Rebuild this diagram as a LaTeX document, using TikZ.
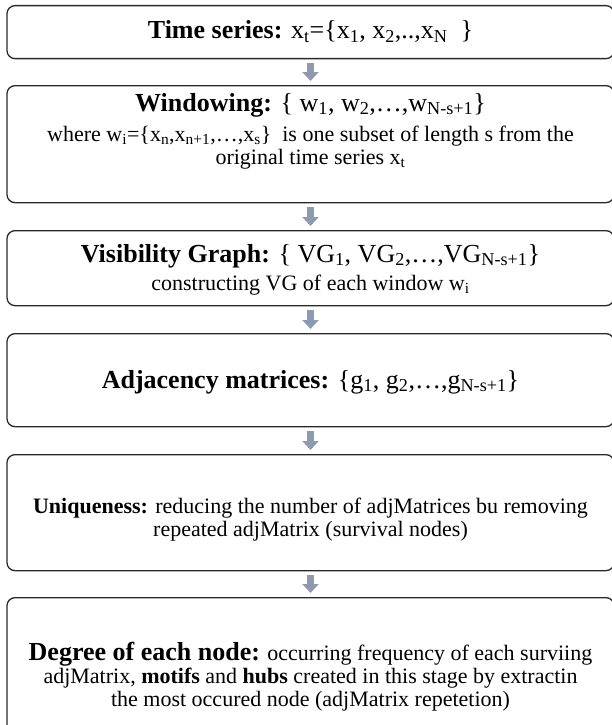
\documentclass[tikz,border=0pt]{standalone}
\usepackage{fontspec}
\setmainfont{Liberation Serif}
\usetikzlibrary{arrows.meta}
\definecolor{arrowgray}{RGB}{142,154,176}
\definecolor{boxline}{RGB}{40,40,40}
\newcommand{\hfnt}{\fontsize{26}{30}\selectfont}
\newcommand{\bfnt}{\fontsize{22}{25}\selectfont}
\newcommand{\sub}[1]{\textsubscript{#1}}
\begin{document}
\begin{tikzpicture}[x=1pt,y=-1pt,
  box/.style={draw=boxline, line width=1.3pt, rounded corners=8pt, minimum width=607pt, inner sep=0pt, anchor=north},
  txt/.style={anchor=base, inner sep=0pt},
  flow/.style={draw=arrowgray, line width=7pt, -{Triangle[width=16pt,length=9pt]}, shorten <=4pt, shorten >=4pt}]
\useasboundingbox (0,0) rectangle (611,725);
\node[box, minimum height=53pt] (b1) at (310.5,5) {};
\node[box, minimum height=117pt] (b2) at (310.5,85) {};
\node[box, minimum height=75pt] (b3) at (310.5,230) {};
\node[box, minimum height=93pt] (b4) at (310.5,333) {};
\node[box, minimum height=116pt] (b5) at (310.5,454) {};
\node[box, minimum height=150pt] (b6) at (310.5,597) {};
\draw[flow] (b1.south) -- (b2.north);
\draw[flow] (b2.south) -- (b3.north);
\draw[flow] (b3.south) -- (b4.north);
\draw[flow] (b4.south) -- (b5.north);
\draw[flow] (b5.south) -- (b6.north);
\node[txt] (t1) at (310.5,39) {\hfnt\textbf{Time series:} x\sub{t}=\{x\sub{1}, x\sub{2},..,x\sub{N}\ \ \}};
\node[txt] (t2a) at (310.5,111) {\hfnt\textbf{Windowing:} \{ w\sub{1}, w\sub{2},…,w\sub{N-s+1}\}};
\node[txt] (t2b) at (310.5,141) {\bfnt where w\sub{i}=\{x\sub{n},x\sub{n+1},…,x\sub{s}\}\ \ is one subset of length s from the};
\node[txt] (t2c) at (310.5,164) {\bfnt original time series x\sub{t}};
\node[txt] (t3a) at (310.5,262) {\hfnt\textbf{Visibility Graph:} \{ VG\sub{1}, VG\sub{2},…,VG\sub{N-s+1}\}};
\node[txt] (t3b) at (310.5,290) {\bfnt constructing VG of each window w\sub{i}};
\node[txt] (t4) at (310.5,388) {\hfnt\textbf{Adjacency matrices:} \{g\sub{1}, g\sub{2},…,g\sub{N-s+1}\}};
\node[txt] (t5a) at (310.5,513) {\bfnt\textbf{Uniqueness:} reducing the number of adjMatrices bu removing};
\node[txt] (t5b) at (310.5,536) {\bfnt repeated adjMatrix (survival nodes)};
\node[txt] (t6a) at (310.5,660) {\bfnt{\hfnt\textbf{Degree of each node:}} occurring frequency of each surviing};
\node[txt] (t6b) at (310.5,683) {\bfnt adjMatrix, \textbf{motifs} and \textbf{hubs} created in this stage by extractin};
\node[txt] (t6c) at (310.5,706) {\bfnt the most occured node (adjMatrix repetetion)};
\end{tikzpicture}
\end{document}
